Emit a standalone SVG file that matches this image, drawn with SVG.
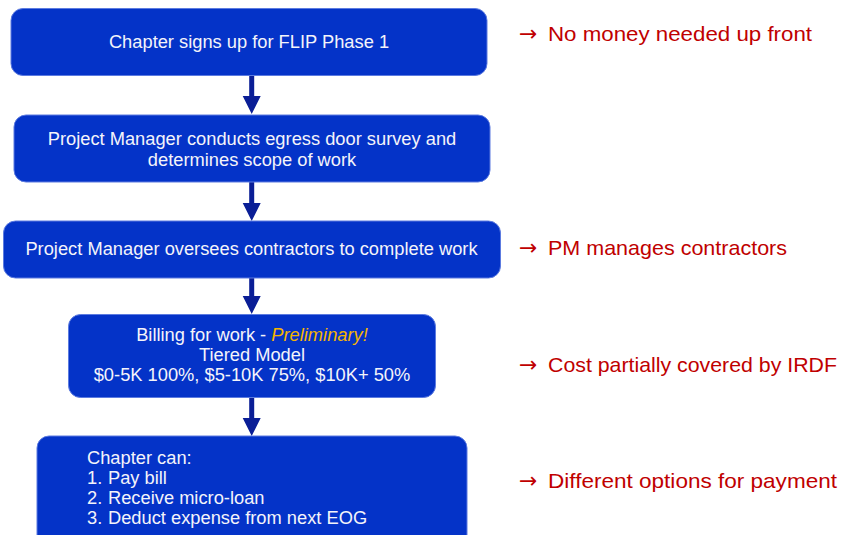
<svg xmlns="http://www.w3.org/2000/svg" width="843" height="535" viewBox="0 0 843 535">
<style>
.box{fill:#0433C8;stroke:#5C7BE0;stroke-width:1}
.t{font-family:"Liberation Sans",Arial,sans-serif;font-size:18.3px;fill:#F4F4FA}
.c{text-anchor:middle}
.note{font-family:"Liberation Sans",Arial,sans-serif;font-size:21px;fill:#C00000}
.arr{font-family:"DejaVu Sans",sans-serif;font-size:22px;fill:#C00000}
.conn{fill:#0A1E96}
</style>
<rect width="843" height="535" fill="#FFFFFF"/>
<g id="connectors">
<path class="conn" d="M249.2 76 H254.2 V96 H260.7 L251.7 114 L242.7 96 H249.2 Z"/>
<path class="conn" d="M249.2 182 H254.2 V203 H260.7 L251.7 221 L242.7 203 H249.2 Z"/>
<path class="conn" d="M249.2 278 H254.2 V296 H260.7 L251.7 314 L242.7 296 H249.2 Z"/>
<path class="conn" d="M249.2 397 H254.2 V418 H260.7 L251.7 436 L242.7 418 H249.2 Z"/>
</g>
<g id="n1">
<rect class="box" x="11" y="8.5" width="476" height="67" rx="12"/>
<text class="t c" x="249" y="48">Chapter signs up for FLIP Phase 1</text>
</g>
<g id="n2">
<rect class="box" x="14" y="115" width="476" height="67" rx="12"/>
<text class="t c" x="252" y="145">Project Manager conducts egress door survey and</text>
<text class="t c" x="252" y="166">determines scope of work</text>
</g>
<g id="n3">
<rect class="box" x="3.5" y="221" width="497" height="57" rx="12"/>
<text class="t c" x="251.5" y="255">Project Manager oversees contractors to complete work</text>
</g>
<g id="n4">
<rect class="box" x="68.5" y="314.5" width="367" height="83" rx="12"/>
<text class="t c" x="252" y="341">Billing for work - <tspan fill="#F5B400" font-style="italic">Preliminary!</tspan></text>
<text class="t c" x="252" y="361">Tiered Model</text>
<text class="t c" x="252" y="381">$0-5K 100%, $5-10K 75%, $10K+ 50%</text>
</g>
<g id="n5">
<rect class="box" x="37" y="436" width="430" height="120" rx="12"/>
<text class="t" x="87" y="464">Chapter can:</text>
<text class="t" x="87" y="484">1.</text>
<text class="t" x="108" y="484">Pay bill</text>
<text class="t" x="87" y="504">2.</text>
<text class="t" x="108" y="504">Receive micro-loan</text>
<text class="t" x="87" y="524">3.</text>
<text class="t" x="108" y="524">Deduct expense from next EOG</text>
</g>
<g id="notes">
<text class="arr" x="519" y="41">→</text>
<text class="note" x="548" y="41" textLength="264" lengthAdjust="spacingAndGlyphs">No money needed up front</text>
<text class="arr" x="519" y="255">→</text>
<text class="note" x="548" y="255" textLength="239" lengthAdjust="spacingAndGlyphs">PM manages contractors</text>
<text class="arr" x="519" y="372">→</text>
<text class="note" x="548" y="372" textLength="289" lengthAdjust="spacingAndGlyphs">Cost partially covered by IRDF</text>
<text class="arr" x="519" y="488">→</text>
<text class="note" x="548" y="488" textLength="289" lengthAdjust="spacingAndGlyphs">Different options for payment</text>
</g>
</svg>
